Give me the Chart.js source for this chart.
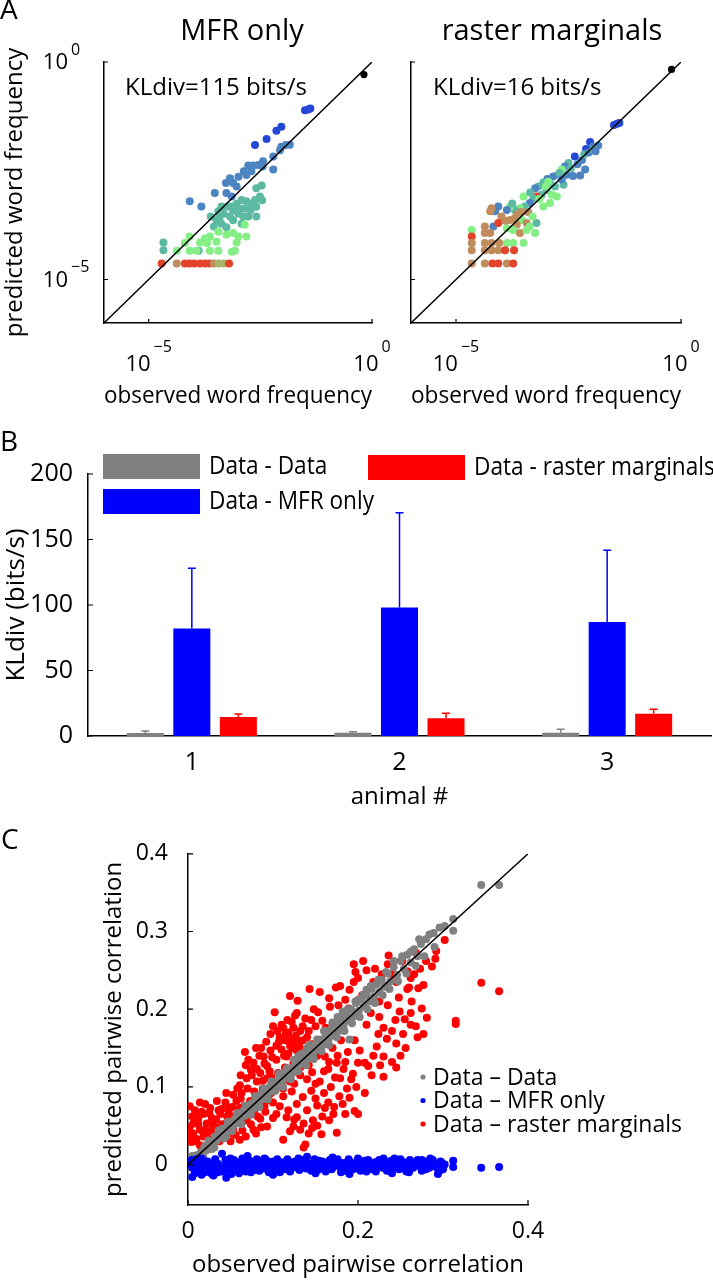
<!DOCTYPE html>
<html>
<head>
<meta charset="utf-8">
<script src="https://cdn.jsdelivr.net/npm/chart.js@4.4.1/dist/chart.umd.min.js"></script>
<style>
  html, body { margin: 0; padding: 0; background: #fff; }
  #page { position: relative; width: 713px; height: 1280px; overflow: hidden; }
  canvas { position: absolute; }
</style>
</head>
<body>
<div id="page">
  <canvas id="chart-mfr" width="400" height="420" style="left:0;top:0"></canvas>
  <canvas id="chart-raster" width="333" height="420" style="left:380px;top:0"></canvas>
  <canvas id="chart-kldiv" width="713" height="400" style="left:0;top:420px"></canvas>
  <canvas id="chart-corr" width="713" height="460" style="left:0;top:820px"></canvas>
</div>
<script>
// ---- panel A: word frequencies, as log10 values ----
const wordTicks = [-5, 0];
const unityA = [-6, 0];
const wordPalette = ['#2547d6', '#4c84c2', '#5cb9a2', '#85ee85', '#c18c5c', '#e2432a', '#a5b86a'];

const mfrObs = [
  -1.50, -1.43, -1.38, -2.03, -2.14, -2.36, -2.62,
  -2.03, -1.93, -1.84, -2.06, -2.21, -2.44, -2.55, -2.66, -2.77, -2.45, -2.70, -2.87, -2.81, -2.99, -3.18, -3.27, -3.11, -3.03, -2.21, -3.52, -3.26, -3.14, -4.08, -3.82,
  -2.59, -2.47, -2.51, -2.62, -2.70, -2.59, -2.46, -2.81, -2.92, -3.03, -2.96, -2.85, -2.72, -2.77, -2.59, -2.99, -3.11, -3.24, -3.18, -3.32, -3.41, -3.48, -3.37, -3.54, -3.61, -3.44, -3.11, -2.92, -2.88, -3.26, -3.15, -3.37, -4.67, -4.67, -3.88,
  -2.85, -3.11, -3.26, -3.44, -3.63, -3.74, -3.85, -4.08, -3.69, -3.48, -2.99, -2.81, -3.03, -3.14, -3.07, -3.44, -3.63, -3.93, -4.19, -4.37, -4.08,
  -4.71, -4.37, -4.19, -4.09, -3.98, -3.85, -3.74, -3.64, -3.54, -3.43, -3.32, -3.20
];
const mfrPred = [
  -1.11, -1.09, -1.07, -1.49, -1.58, -1.77, -1.91,
  -1.95, -1.91, -1.90, -2.03, -2.17, -2.28, -2.37, -2.38, -2.38, -2.40, -2.51, -2.51, -2.60, -2.64, -2.67, -2.78, -2.78, -2.86, -2.47, -3.01, -3.01, -3.09, -3.20, -3.32,
  -2.90, -2.84, -3.09, -3.17, -3.26, -3.33, -3.18, -3.20, -3.17, -3.26, -3.37, -3.37, -3.41, -3.55, -3.55, -3.49, -3.41, -3.32, -3.55, -3.49, -3.57, -3.64, -3.72, -3.78, -3.55, -3.43, -3.64, -3.72, -3.55, -3.80, -3.32, -3.32, -4.15, -4.33, -4.34,
  -3.74, -3.93, -3.97, -3.90, -4.01, -4.06, -4.15, -4.01, -4.16, -4.13, -4.01, -4.01, -4.15, -4.36, -4.34, -4.34, -4.34, -4.34, -4.16, -4.34, -4.34,
  -4.63, -4.63, -4.63, -4.63, -4.63, -4.63, -4.63, -4.63, -4.63, -4.63, -4.63, -4.63
];
const mfrGroup = [
  0, 0, 0, 0, 0, 0, 0,
  1, 1, 1, 1, 1, 1, 1, 1, 1, 1, 1, 1, 1, 1, 1, 1, 1, 1, 1, 1, 1, 1, 1, 1,
  2, 2, 2, 2, 2, 2, 2, 2, 2, 2, 2, 2, 2, 2, 2, 2, 2, 2, 2, 2, 2, 2, 2, 2, 2, 2, 2, 2, 2, 2, 2, 2, 2, 2, 2,
  3, 3, 3, 3, 3, 3, 3, 3, 3, 3, 3, 3, 3, 3, 3, 3, 3, 3, 3, 3, 3,
  5, 4, 5, 5, 5, 5, 5, 5, 4, 6, 6, 5
];
const mfrSilent = [-0.18, -0.29];

const rmObs = [
  -1.49, -1.42, -1.37, -2.02, -1.84, -1.96, -2.11, -2.36, -2.13, -2.24,
  -2.50, -2.58, -2.54, -2.65, -2.73, -2.84, -2.97, -2.91, -3.06, -3.17,
  -3.24, -2.61, -2.80, -2.99, -3.10, -3.21, -3.28, -3.36, -3.50, -3.47,
  -3.58, -3.69, -3.80, -3.87, -4.06, -4.13, -4.21, -4.24, -3.99, -3.80,
  -3.65, -3.54, -3.43, -3.65, -3.87, -3.73, -3.58, -3.43, -3.24, -3.36,
  -3.21, -3.06, -2.91, -4.17, -4.06, -4.36, -4.65, -4.65, -4.65, -4.65,
  -4.65, -4.36, -4.24, -4.36, -4.21, -4.04, -3.87, -3.73, -3.50, -4.36,
  -4.21, -4.06, -3.91, -3.71, -4.36, -4.19, -4.06, -3.87, -3.73, -2.87,
  -2.76, -2.70, -2.65, -2.45, -2.40, -2.30, -2.20, -2.15, -2.05, -1.95,
  -1.90, -3.00, -2.95, -3.35, -3.15, -3.40, -3.55, -3.30, -3.70, -3.90,
  -3.75
];
const rmPred = [
  -1.45, -1.42, -1.40, -1.84, -1.92, -1.95, -2.00, -2.17, -2.47, -2.61,
  -2.32, -2.40, -2.59, -2.47, -2.59, -2.63, -2.69, -2.80, -2.77, -2.86,
  -2.90, -2.82, -2.86, -2.94, -3.05, -3.09, -3.13, -3.24, -3.09, -3.32,
  -3.36, -3.40, -3.32, -3.40, -3.32, -3.43, -3.36, -3.43, -3.55, -3.63,
  -3.51, -3.63, -3.70, -3.74, -3.82, -3.86, -3.93, -3.86, -3.93, -3.78,
  -3.70, -3.32, -3.24, -3.78, -3.70, -3.78, -3.86, -4.01, -4.16, -4.33,
  -4.63, -3.93, -3.93, -4.16, -4.16, -4.16, -4.16, -4.16, -4.16, -4.33,
  -4.33, -4.33, -4.33, -4.33, -4.63, -4.63, -4.63, -4.63, -4.63, -3.05,
  -3.09, -2.55, -2.70, -2.45, -2.62, -2.35, -2.25, -2.12, -2.08, -2.02,
  -2.05, -2.85, -2.75, -3.00, -3.15, -3.45, -3.45, -3.55, -3.60, -3.65,
  -3.25
];
const rmGroup = [
  0, 0, 0, 0, 1, 1, 0, 0, 1, 1,
  2, 1, 1, 3, 2, 1, 1, 2, 2, 2,
  1, 2, 2, 2, 2, 5, 2, 1, 3, 2,
  3, 2, 3, 1, 1, 1, 4, 4, 4, 4,
  4, 3, 4, 4, 3, 3, 4, 3, 3, 3,
  2, 3, 3, 1, 5, 4, 3, 5, 4, 4,
  4, 4, 4, 4, 4, 4, 3, 3, 3, 4,
  4, 4, 5, 5, 4, 5, 5, 4, 5, 3,
  3, 2, 1, 2, 1, 1, 1, 2, 1, 2,
  1, 3, 3, 2, 3, 4, 4, 3, 4, 4,
  2
];
const rmSilent = [-0.21, -0.17];

// ---- panel B: KL divergence per animal ----
const animals = ['1', '2', '3'];
const klDataData = [2.3, 2.5, 2.5];
const klDataDataErr = [1.5, 0.8, 2.6];
const klMfr = [82, 98, 87];
const klMfrErr = [46, 72.5, 54.7];
const klRaster = [14.5, 13.5, 17];
const klRasterErr = [2.3, 3.8, 3.4];

// ---- panel C: pairwise correlations [observed, predicted] ----
const corrXTicks = [0, 0.2, 0.4];
const corrYTicks = [0, 0.1, 0.2, 0.3, 0.4];
const unityC = [0, 0.4];
const redPairs = [
  [0.236,0.269],[0.195,0.258],[0.206,0.262],[0.197,0.248],[0.302,0.289],[0.291,0.265],[0.268,0.273],[0.258,0.249],[0.262,0.240],[0.345,0.234],
  [0.366,0.223],[0.315,0.185],[0.315,0.181],[0.277,0.231],[0.271,0.227],[0.260,0.228],[0.249,0.197],[0.244,0.186],[0.240,0.172],[0.253,0.168],
  [0.245,0.156],[0.256,0.150],[0.277,0.168],[0.270,0.164],[0.281,0.189],[0.275,0.201],[0.230,0.176],[0.224,0.168],[0.234,0.162],[0.222,0.152],
  [0.230,0.139],[0.245,0.125],[0.230,0.113],[0.212,0.127],[0.208,0.131],[0.202,0.147],[0.200,0.131],[0.194,0.117],[0.216,0.115],[0.208,0.092],
  [0.200,0.065],[0.196,0.069],[0.185,0.065],[0.171,0.065],[0.161,0.073],[0.166,0.057],[0.175,0.041],[0.157,0.039],[0.147,0.057],[0.138,0.026],
  [0.146,0.047],[0.136,0.053],[0.132,0.045],[0.124,0.049],[0.120,0.043],[0.112,0.032],[0.128,0.061],[0.116,0.061],[0.104,0.065],[0.093,0.049],
  [0.085,0.059],[0.077,0.045],[0.069,0.057],[0.061,0.073],[0.053,0.061],[0.049,0.049],[0.034,0.047],[0.022,0.053],[0.014,0.045],[0.006,0.053],
  [0.120,0.217],[0.129,0.211],[0.143,0.226],[0.155,0.222],[0.166,0.214],[0.174,0.228],[0.179,0.230],[0.167,0.203],[0.177,0.205],[0.189,0.201],
  [0.153,0.196],[0.138,0.188],[0.126,0.192],[0.122,0.184],[0.132,0.172],[0.102,0.196],[0.110,0.180],[0.100,0.178],[0.097,0.168],[0.108,0.164],
  [0.114,0.160],[0.120,0.153],[0.128,0.147],[0.104,0.153],[0.097,0.147],[0.089,0.139],[0.077,0.131],[0.067,0.145],[0.071,0.135],[0.081,0.123],
  [0.093,0.127],[0.104,0.135],[0.116,0.139],[0.124,0.131],[0.136,0.135],[0.146,0.155],[0.155,0.160],[0.161,0.139],[0.165,0.123],[0.175,0.131],
  [0.183,0.123],[0.179,0.111],[0.155,0.107],[0.146,0.119],[0.132,0.115],[0.120,0.107],[0.104,0.102],[0.093,0.111],[0.081,0.107],[0.069,0.111],
  [0.061,0.102],[0.053,0.090],[0.045,0.092],[0.057,0.082],[0.049,0.073],[0.034,0.082],[0.026,0.073],[0.038,0.065],[0.018,0.065],[0.010,0.061],
  [0.022,0.037],[0.010,0.033],[0.004,0.029],[0.030,0.029],[0.038,0.041],[0.045,0.053],[0.053,0.045],[0.061,0.032],[0.014,0.080],[0.002,0.075],
  [0.024,0.020],[0.016,0.022],[0.136,0.022],[0.110,0.148],[0.118,0.143],[0.125,0.156],[0.113,0.140],[0.107,0.158],[0.115,0.168],[0.122,0.162],
  [0.130,0.158],[0.099,0.138],[0.086,0.150],[0.092,0.158],[0.140,0.164],[0.135,0.178],[0.128,0.195],[0.148,0.200],[0.085,0.118],[0.075,0.115],
  [0.063,0.092],[0.058,0.098],[0.070,0.098],[0.078,0.094],[0.088,0.098],[0.098,0.092],[0.040,0.072],[0.046,0.062],[0.028,0.060],[0.030,0.052],
  [0.020,0.045],[0.012,0.052],[0.006,0.040],[0.042,0.035],[0.050,0.040],[0.100,0.080],[0.112,0.088],[0.122,0.094],[0.090,0.075],[0.081,0.084],
  [0.135,0.087],[0.145,0.095],[0.150,0.085],[0.160,0.092],[0.168,0.100],[0.173,0.112],[0.178,0.088],[0.187,0.098],[0.160,0.120],[0.170,0.150],
  [0.180,0.160],[0.188,0.145],[0.196,0.160],[0.210,0.180],[0.215,0.195],[0.205,0.218],[0.225,0.210],[0.232,0.230],[0.240,0.245],[0.218,0.235],
  [0.273,0.252],[0.287,0.255],[0.263,0.210],[0.255,0.187],[0.262,0.180],
  [0.005,0.062],[0.008,0.070],[0.012,0.058],[0.016,0.068],[0.020,0.078],[0.025,0.066],[0.027,0.044],[0.033,0.058],[0.036,0.070],[0.040,0.052],
  [0.044,0.080],[0.048,0.066],[0.052,0.074],[0.055,0.056],[0.058,0.065],[0.062,0.085],[0.066,0.075],[0.070,0.066],[0.073,0.082],[0.078,0.070],
  [0.082,0.062],[0.087,0.088],[0.091,0.068],[0.095,0.083],[0.008,0.030],[0.014,0.025],[0.018,0.036],[0.026,0.032],[0.032,0.040],[0.037,0.030],
  [0.044,0.044],[0.050,0.030],[0.056,0.038],[0.064,0.044],[0.068,0.036],[0.074,0.052],[0.080,0.040],[0.086,0.048],[0.002,0.048],[0.003,0.038],
  [0.105,0.172],[0.112,0.176],[0.118,0.170],[0.124,0.176],[0.117,0.186],[0.123,0.150],[0.131,0.152],[0.127,0.166],[0.135,0.160],[0.142,0.172],
  [0.138,0.145],[0.150,0.178],[0.145,0.186],[0.158,0.185],[0.162,0.176],[0.152,0.140],[0.142,0.128],[0.132,0.125],[0.114,0.125],[0.106,0.118],
  [0.096,0.120],[0.090,0.130],[0.084,0.140],[0.080,0.150],[0.074,0.122],[0.068,0.128],[0.062,0.115],[0.088,0.108],[0.098,0.112],[0.112,0.098],
  [0.125,0.104],[0.140,0.070],[0.152,0.076],[0.158,0.062],[0.165,0.080],[0.172,0.074],[0.182,0.078],[0.190,0.086],[0.198,0.100],[0.192,0.110],
  [0.185,0.132],[0.176,0.140],[0.166,0.132],[0.150,0.104],[0.140,0.110],[0.128,0.078],[0.118,0.070],[0.108,0.075],[0.100,0.060],[0.125,0.058],
  [0.142,0.040],[0.152,0.050],[0.200,0.240],[0.210,0.250],[0.220,0.252],[0.228,0.245],[0.215,0.228],[0.190,0.225],[0.185,0.212],[0.195,0.235],
  [0.225,0.190],[0.235,0.205],[0.248,0.215],[0.258,0.226],[0.266,0.245],[0.280,0.262],[0.292,0.275],[0.245,0.235],[0.235,0.258],[0.252,0.262],
  [0.262,0.195],[0.268,0.178],[0.250,0.140],[0.240,0.132],[0.226,0.128],[0.218,0.140]
];
const grayPairs = [
  [0.003,0.002],[0.006,0.008],[0.008,0.004],[0.010,0.012],[0.012,0.009],[0.015,0.016],[0.017,0.013],[0.019,0.022],[0.021,0.018],[0.023,0.026],
  [0.025,0.021],[0.028,0.030],[0.030,0.027],[0.032,0.036],[0.034,0.031],[0.037,0.040],[0.039,0.035],[0.041,0.045],[0.043,0.040],[0.046,0.049],
  [0.048,0.044],[0.050,0.054],[0.053,0.050],[0.055,0.059],[0.057,0.053],[0.060,0.063],[0.062,0.058],[0.065,0.069],[0.067,0.063],[0.070,0.073],
  [0.072,0.068],[0.075,0.079],[0.077,0.072],[0.080,0.084],[0.083,0.079],[0.085,0.090],[0.088,0.084],[0.090,0.094],[0.093,0.088],[0.096,0.100],
  [0.099,0.094],[0.102,0.106],[0.105,0.100],[0.108,0.112],[0.111,0.106],[0.114,0.118],[0.117,0.112],[0.120,0.124],[0.123,0.118],[0.126,0.131],
  [0.129,0.125],[0.132,0.137],[0.135,0.130],[0.138,0.143],[0.141,0.136],[0.144,0.149],[0.147,0.142],[0.150,0.155],[0.153,0.148],[0.156,0.161],
  [0.159,0.154],[0.162,0.168],[0.165,0.160],[0.168,0.174],[0.171,0.166],[0.174,0.180],[0.177,0.172],[0.180,0.186],[0.183,0.178],[0.186,0.193],
  [0.189,0.185],[0.192,0.200],[0.195,0.191],[0.198,0.208],[0.201,0.198],[0.204,0.213],[0.207,0.204],[0.210,0.219],[0.213,0.210],[0.216,0.226],
  [0.219,0.216],[0.222,0.232],[0.225,0.222],[0.228,0.238],[0.231,0.229],[0.235,0.246],[0.238,0.236],[0.242,0.254],[0.246,0.244],[0.250,0.262],
  [0.254,0.252],[0.258,0.270],[0.262,0.260],[0.266,0.277],[0.270,0.268],[0.274,0.284],[0.280,0.290],[0.289,0.298],[0.302,0.307],[0.312,0.316],
  [0.312,0.301],[0.345,0.360],[0.366,0.360],[0.190,0.161],[0.182,0.197],[0.176,0.190],[0.170,0.183],[0.160,0.172],[0.200,0.212],[0.210,0.225],
  [0.140,0.150],[0.130,0.140],[0.120,0.115],[0.100,0.098],[0.060,0.066],[0.040,0.046],[0.020,0.024],[0.028,0.020],[0.045,0.036],
  [0.005,0.011],[0.012,0.003],[0.018,0.010],[0.024,0.031],[0.031,0.022],[0.036,0.044],[0.042,0.034],[0.047,0.055],[0.052,0.043],[0.058,0.066],
  [0.063,0.052],[0.068,0.076],[0.074,0.064],[0.079,0.088],[0.084,0.074],[0.089,0.098],[0.094,0.084],[0.098,0.107],[0.103,0.095],[0.107,0.117],
  [0.112,0.100],[0.116,0.124],[0.121,0.110],[0.125,0.135],[0.130,0.120],[0.134,0.143],[0.139,0.128],[0.143,0.154],[0.148,0.136],[0.152,0.161],
  [0.157,0.146],[0.161,0.172],[0.166,0.154],[0.170,0.180],[0.175,0.164],[0.179,0.190],[0.184,0.172],[0.188,0.200],[0.193,0.182],[0.197,0.210],
  [0.202,0.190],[0.206,0.218],[0.211,0.200],[0.215,0.230],[0.220,0.208],[0.224,0.238],[0.229,0.218],[0.233,0.248],[0.237,0.226],[0.242,0.262],
  [0.247,0.236],[0.252,0.268],[0.257,0.246],[0.262,0.274],[0.268,0.256],[0.272,0.290],[0.278,0.268],[0.284,0.296],[0.290,0.280],[0.296,0.305]
];
const bluePairs = [
  [0.002,0.000],[0.005,-0.004],[0.007,0.003],[0.009,-0.008],[0.011,0.002],[0.013,-0.002],[0.015,0.005],[0.017,-0.006],[0.019,0.001],[0.021,-0.003],
  [0.023,0.004],[0.025,-0.009],[0.027,0.000],[0.029,-0.004],[0.031,0.003],[0.033,-0.007],[0.035,0.001],[0.038,-0.002],[0.040,0.014],[0.042,-0.005],
  [0.045,0.002],[0.045,-0.017],[0.048,-0.008],[0.050,0.004],[0.053,-0.003],[0.055,0.001],[0.058,-0.006],[0.060,0.003],[0.063,-0.002],[0.065,0.005],
  [0.068,-0.009],[0.070,0.000],[0.073,-0.004],[0.075,0.004],[0.078,-0.001],[0.080,-0.007],[0.083,0.002],[0.086,-0.003],[0.088,0.005],[0.091,-0.005],
  [0.094,0.001],[0.097,-0.002],[0.100,0.004],[0.103,-0.008],[0.106,0.000],[0.109,-0.004],[0.112,0.003],[0.115,-0.001],[0.118,0.004],[0.121,-0.006],
  [0.124,0.001],[0.127,-0.003],[0.130,0.005],[0.133,-0.002],[0.136,0.002],[0.139,-0.005],[0.142,0.000],[0.145,-0.008],[0.148,0.003],[0.151,-0.002],
  [0.154,0.005],[0.157,-0.004],[0.160,0.001],[0.163,-0.003],[0.166,0.004],[0.169,-0.006],[0.172,0.000],[0.175,0.003],[0.178,-0.002],[0.181,-0.007],
  [0.184,0.002],[0.187,-0.004],[0.190,0.004],[0.193,-0.001],[0.196,0.001],[0.199,-0.005],[0.202,0.003],[0.205,-0.002],[0.208,0.005],[0.211,-0.003],
  [0.214,0.000],[0.217,-0.006],[0.220,0.003],[0.223,-0.002],[0.226,0.002],[0.229,-0.004],[0.232,0.004],[0.235,-0.001],[0.238,-0.007],[0.241,0.001],
  [0.244,-0.003],[0.247,0.004],[0.250,0.000],[0.253,-0.005],[0.256,0.002],[0.259,-0.002],[0.262,0.003],[0.265,-0.004],[0.268,0.000],[0.271,0.002],
  [0.274,-0.003],[0.277,0.001],[0.280,-0.006],[0.283,0.002],[0.286,-0.002],[0.290,0.000],[0.293,-0.004],[0.296,-0.008],[0.298,0.003],[0.302,0.000],
  [0.312,0.005],[0.312,-0.003],[0.345,-0.004],[0.366,-0.003],[0.005,-0.016],[0.035,-0.010],[0.060,-0.011],[0.095,-0.010],[0.120,-0.009],[0.150,-0.011],
  [0.180,-0.010],[0.210,-0.009],[0.240,-0.011],[0.010,0.007],[0.050,0.008],[0.090,0.008],[0.130,0.008],[0.170,0.009],[0.200,0.008],[0.250,0.007],
  [0.275,0.006],
  [0.004,0.006],[0.008,-0.011],[0.012,-0.005],[0.016,0.008],[0.020,-0.010],[0.024,0.002],[0.028,-0.012],[0.032,0.007],[0.036,-0.004],[0.040,-0.009],
  [0.044,0.006],[0.047,-0.003],[0.051,-0.012],[0.054,0.006],[0.057,0.002],[0.061,-0.005],[0.064,0.008],[0.067,-0.002],[0.071,0.006],[0.074,-0.010],
  [0.077,0.003],[0.081,0.007],[0.084,-0.008],[0.087,0.000],[0.092,0.006],[0.096,-0.006],[0.101,0.001],[0.105,0.007],[0.108,-0.010],[0.113,-0.006],
  [0.117,0.007],[0.122,-0.002],[0.126,0.004],[0.131,-0.007],[0.135,0.006],[0.140,0.003],[0.144,-0.003],[0.149,0.007],[0.153,-0.007],[0.158,0.004],
  [0.162,-0.009],[0.167,0.006],[0.171,-0.003],[0.176,0.007],[0.180,0.002],[0.185,-0.008],[0.189,0.007],[0.194,-0.006],[0.198,0.003],[0.203,-0.008],
  [0.207,0.001],[0.212,0.006],[0.216,-0.004],[0.221,-0.009],[0.225,0.006],[0.230,0.000],[0.234,-0.008],[0.239,0.005],[0.243,0.008],[0.248,-0.006],
  [0.252,0.004],[0.257,-0.009],[0.261,0.006],[0.266,-0.002],[0.270,0.006],[0.275,-0.008],[0.279,0.004],[0.284,-0.004],[0.288,0.006],[0.292,-0.002],
  [0.297,0.004],[0.300,-0.006],[0.294,-0.012],[0.285,0.008],[0.260,-0.010],[0.230,0.008],[0.190,-0.012],[0.140,0.010],[0.100,-0.013],[0.070,0.011],
  [0.030,-0.014],[0.016,-0.013]
];

Chart.defaults.font.family = "'Open Sans', sans-serif";
Chart.defaults.color = '#000';

// free text placed on the canvas (panel letters, titles, notes)
const textNotes = {
  id: 'textNotes',
  afterDraw(chart, args, opts) {
    const ctx = chart.ctx;
    ctx.save();
    ctx.fillStyle = '#000';
    ctx.textBaseline = 'middle';
    (opts.items || []).forEach(it => {
      ctx.font = it.size + 'px "Open Sans"';
      ctx.textAlign = it.align || 'left';
      ctx.fillText(it.text, it.x, it.y);
    });
    ctx.restore();
  }
};

// matlab-like tick marks pointing into the plot
const inTicks = {
  id: 'inTicks',
  afterDraw(chart, args, opts) {
    const {ctx, chartArea} = chart;
    const len = opts.len || 5;
    ctx.save();
    ctx.strokeStyle = '#000';
    ctx.lineWidth = 1.2;
    ctx.beginPath();
    if (opts.x) {
      const xs = chart.scales.x;
      xs.ticks.forEach(t => {
        const px = xs.getPixelForValue(t.value);
        ctx.moveTo(px, chartArea.bottom);
        ctx.lineTo(px, chartArea.bottom - len);
      });
    }
    if (opts.y) {
      const ys = chart.scales.y;
      ys.ticks.forEach(t => {
        const py = ys.getPixelForValue(t.value);
        ctx.moveTo(chartArea.left, py);
        ctx.lineTo(chartArea.left + len, py);
      });
    }
    ctx.stroke();
    ctx.restore();
  }
};

// "10" with a raised exponent for the log axes of panel A
const powLabels = {
  id: 'powLabels',
  afterDraw(chart, args, opts) {
    const ctx = chart.ctx;
    const base = '22px "Open Sans"';
    const sup = '16px "Open Sans"';
    const expText = v => (v < 0 ? '\u2212' + Math.abs(v) : String(v));
    ctx.save();
    ctx.fillStyle = '#000';
    ctx.textBaseline = 'middle';
    if (opts.x) {
      const xs = chart.scales.x;
      xs.ticks.forEach(t => {
        const px = xs.getPixelForValue(t.value);
        const e = expText(t.value);
        ctx.font = base;
        const w1 = ctx.measureText('10').width;
        ctx.font = sup;
        const w2 = ctx.measureText(e).width;
        const left = px - (w1 + w2 + 3) / 2;
        ctx.textAlign = 'left';
        ctx.font = base;
        ctx.fillText('10', left, xs.top + 42);
        ctx.font = sup;
        ctx.fillText(e, left + w1 + 3, xs.top + 24);
      });
    }
    if (opts.y) {
      const ys = chart.scales.y;
      ys.ticks.forEach(t => {
        const py = ys.getPixelForValue(t.value);
        ctx.font = base;
        ctx.textAlign = 'right';
        ctx.fillText('10', ys.right - 36, py + 1);
        ctx.font = sup;
        ctx.textAlign = 'left';
        ctx.fillText(expText(t.value), ys.right - 33, py - 12);
      });
    }
    ctx.restore();
  }
};

// one sided error bars with a cap, same colour as the bar
const errorBars = {
  id: 'errorBars',
  afterDatasetsDraw(chart) {
    const ctx = chart.ctx;
    const ys = chart.scales.y;
    ctx.save();
    ctx.lineWidth = 1.5;
    chart.data.datasets.forEach((ds, i) => {
      const meta = chart.getDatasetMeta(i);
      ctx.strokeStyle = ds.backgroundColor;
      meta.data.forEach((bar, j) => {
        const top = ys.getPixelForValue(ds.data[j] + ds.errors[j]);
        ctx.beginPath();
        ctx.moveTo(bar.x, bar.y);
        ctx.lineTo(bar.x, top);
        ctx.moveTo(bar.x - 4, top);
        ctx.lineTo(bar.x + 4, top);
        ctx.stroke();
      });
    });
    ctx.restore();
  }
};

// legend drawn inside the plot like the matlab one
const boxLegend = {
  id: 'boxLegend',
  afterDraw(chart, args, opts) {
    const ctx = chart.ctx;
    ctx.save();
    ctx.textBaseline = 'middle';
    ctx.textAlign = 'left';
    opts.items.forEach(it => {
      const ds = chart.data.datasets[it.index];
      ctx.fillStyle = ds.backgroundColor;
      ctx.fillRect(it.x, it.y, 97, 25);
      ctx.fillStyle = '#000';
      ctx.font = '26px "Open Sans"';
      ctx.save();
      ctx.translate(it.x + 106, it.y + 13);
      ctx.scale(0.87, 1);
      ctx.fillText(ds.label, 0, 0);
      ctx.restore();
    });
    ctx.restore();
  }
};

const dotLegend = {
  id: 'dotLegend',
  afterDraw(chart, args, opts) {
    const ctx = chart.ctx;
    ctx.save();
    ctx.textBaseline = 'middle';
    ctx.textAlign = 'left';
    ctx.font = '23px "Open Sans"';
    opts.order.forEach((idx, row) => {
      const ds = chart.data.datasets[idx];
      const y = opts.y + row * opts.step;
      ctx.fillStyle = ds.backgroundColor;
      ctx.beginPath();
      ctx.arc(opts.x, y, 2.6, 0, Math.PI * 2);
      ctx.fill();
      ctx.fillStyle = '#000';
      ctx.fillText(ds.label, opts.x + 10, y + 1);
    });
    ctx.restore();
  }
};

function wordChart(id, obs, pred, groups, silent, showY, notes, pad) {
  const points = obs.map((v, i) => ({x: v, y: pred[i]}));
  new Chart(document.getElementById(id), {
    type: 'scatter',
    data: {
      datasets: [
        {data: [{x: unityA[0], y: unityA[0]}, {x: unityA[1], y: unityA[1]}], showLine: true,
         borderColor: '#000', borderWidth: 1.5, pointRadius: 0, order: 0},
        {data: [{x: silent[0], y: silent[1]}], backgroundColor: '#000', pointRadius: 3.6, borderWidth: 0, order: 1},
        {data: points, backgroundColor: groups.map(g => wordPalette[g]), pointRadius: 4, borderWidth: 0, order: 2}
      ]
    },
    options: {
      responsive: false,
      animation: false,
      devicePixelRatio: 1,
      layout: {padding: {top: 62, right: pad.right, bottom: 0, left: 0}},
      plugins: {
        legend: {display: false},
        tooltip: {enabled: false},
        textNotes: {items: notes},
        inTicks: {x: true, y: true, len: 4},
        powLabels: {x: true, y: showY}
      },
      scales: {
        x: {
          type: 'linear', min: -6, max: 0,
          afterBuildTicks: s => { s.ticks = wordTicks.map(v => ({value: v})); },
          afterFit: s => { s.height = 97; },
          grid: {display: false, drawTicks: false},
          border: {color: '#000', width: 1.5},
          ticks: {display: false},
          title: {display: true, text: 'observed word frequency', font: {size: 24}, padding: 9}
        },
        y: {
          type: 'linear', min: -6, max: 0,
          afterBuildTicks: s => { s.ticks = wordTicks.map(v => ({value: v})); },
          afterFit: s => { s.width = pad.left; },
          grid: {display: false, drawTicks: false},
          border: {color: '#000', width: 1.5},
          ticks: {display: false},
          title: {display: showY, text: 'predicted word frequency', font: {size: 24}, padding: 1}
        }
      }
    },
    plugins: [textNotes, inTicks, powLabels]
  });
}

wordChart('chart-mfr', mfrObs, mfrPred, mfrGroup, mfrSilent, true, [
  {text: 'A', x: 0, y: 11, size: 28},
  {text: 'MFR only', x: 242, y: 32, size: 29, align: 'center'},
  {text: 'KLdiv=115 bits/s', x: 125, y: 88, size: 24}
], {left: 104, right: 28});

wordChart('chart-raster', rmObs, rmPred, rmGroup, rmSilent, false, [
  {text: 'raster marginals', x: 172, y: 32, size: 29, align: 'center'},
  {text: 'KLdiv=16 bits/s', x: 53, y: 88, size: 24}
], {left: 31, right: 32});

new Chart(document.getElementById('chart-kldiv'), {
  type: 'bar',
  data: {
    labels: animals,
    datasets: [
      {label: 'Data - Data', data: klDataData, errors: klDataDataErr, backgroundColor: '#808080'},
      {label: 'Data - MFR only', data: klMfr, errors: klMfrErr, backgroundColor: '#0000ff'},
      {label: 'Data - raster marginals', data: klRaster, errors: klRasterErr, backgroundColor: '#ff0000'}
    ]
  },
  options: {
    responsive: false,
    animation: false,
    devicePixelRatio: 1,
    layout: {padding: {top: 54, right: 2, bottom: 0, left: 0}},
    datasets: {bar: {categoryPercentage: 0.672, barPercentage: 0.796}},
    plugins: {
      legend: {display: false},
      tooltip: {enabled: false},
      textNotes: {items: [{text: 'B', x: 0, y: 23, size: 28}]},
      inTicks: {x: false, y: true, len: 5},
      boxLegend: {items: [
        {index: 0, x: 103, y: 34},
        {index: 1, x: 103, y: 69},
        {index: 2, x: 368, y: 35}
      ]}
    },
    scales: {
      x: {
        afterFit: s => { s.height = 84; },
        grid: {display: false, drawTicks: false},
        border: {color: '#000', width: 1.5},
        ticks: {font: {size: 25}, padding: 12},
        title: {display: true, text: 'animal #', font: {size: 24}, padding: 8}
      },
      y: {
        min: 0, max: 200,
        afterFit: s => { s.width = 88; },
        grid: {display: false, drawTicks: false},
        border: {color: '#000', width: 1.5},
        ticks: {stepSize: 50, font: {size: 25}, padding: 15},
        title: {display: true, text: 'KLdiv (bits/s)', font: {size: 26}, padding: 1}
      }
    }
  },
  plugins: [errorBars, inTicks, boxLegend, textNotes]
});

const toXY = pairs => pairs.map(p => ({x: p[0], y: p[1]}));
const fmtTick = v => String(+v.toFixed(1));

new Chart(document.getElementById('chart-corr'), {
  type: 'scatter',
  data: {
    datasets: [
      {label: 'Data \u2013 raster marginals', data: toXY(redPairs), backgroundColor: '#ff0000', pointRadius: 4, borderWidth: 0, order: 4},
      {label: 'Data \u2013 Data', data: toXY(grayPairs), backgroundColor: '#808080', pointRadius: 4, borderWidth: 0, order: 3},
      {label: 'Data \u2013 MFR only', data: toXY(bluePairs), backgroundColor: '#0000ff', pointRadius: 4, borderWidth: 0, order: 2},
      {label: 'unity', data: [{x: unityC[0], y: unityC[0]}, {x: unityC[1], y: unityC[1]}], showLine: true,
       borderColor: '#000', borderWidth: 1.5, pointRadius: 0, order: 1}
    ]
  },
  options: {
    responsive: false,
    animation: false,
    devicePixelRatio: 1,
    layout: {padding: {top: 18, right: 185, bottom: 0, left: 100}},
    plugins: {
      legend: {display: false},
      tooltip: {enabled: false},
      textNotes: {items: [{text: 'C', x: 1, y: 21, size: 28}]},
      inTicks: {x: true, y: true, len: 5},
      dotLegend: {order: [1, 2, 0], x: 423, y: 257, step: 23.5}
    },
    scales: {
      x: {
        min: 0, max: 0.4,
        afterBuildTicks: s => { s.ticks = corrXTicks.map(v => ({value: v})); },
        afterFit: s => { s.height = 75; },
        grid: {display: false, drawTicks: false},
        border: {color: '#000', width: 1.5},
        ticks: {font: {size: 23}, padding: 13, callback: fmtTick},
        title: {display: true, text: 'observed pairwise correlation', font: {size: 24}, padding: 0}
      },
      y: {
        min: -0.052, max: 0.4,
        afterBuildTicks: s => { s.ticks = corrYTicks.map(v => ({value: v})); },
        afterFit: s => { s.width = 88; },
        grid: {display: false, drawTicks: false},
        border: {color: '#000', width: 1.5},
        ticks: {font: {size: 23}, padding: 20, callback: fmtTick},
        title: {display: true, text: 'predicted pairwise correlation', font: {size: 24}, padding: 0}
      }
    }
  },
  plugins: [inTicks, dotLegend, textNotes]
});
</script>
</body>
</html>
